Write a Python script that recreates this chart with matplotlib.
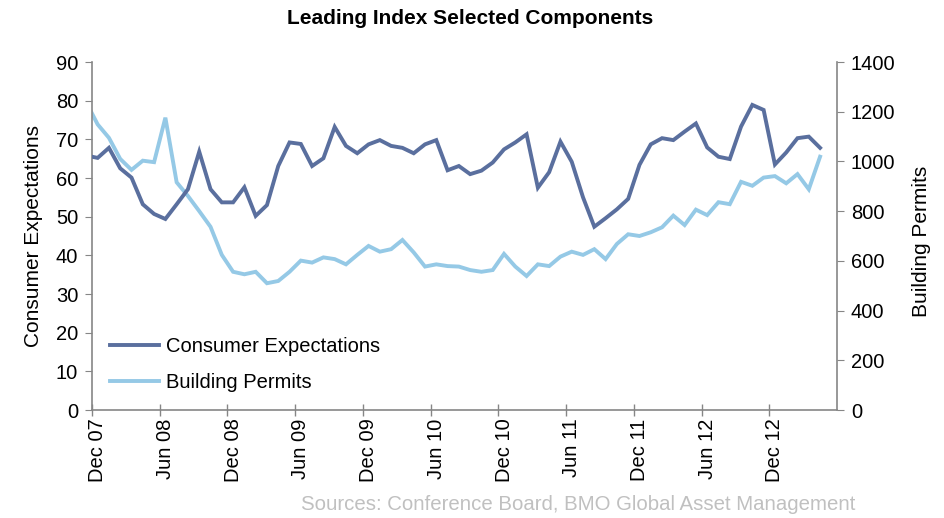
import matplotlib
matplotlib.use("Agg")
import matplotlib.pyplot as plt
from matplotlib.ticker import FixedLocator, NullFormatter, FixedFormatter

plt.rcParams['font.family'] = ['Liberation Sans', 'DejaVu Sans']

# Monthly data: Nov 07 (clipped at the left edge) then Dec 07 .. Apr 13
months_offset = list(range(-1, 65))  # month index relative to Dec 07
consumer_expectations = [65.8,
    65.2, 67.8, 62.5, 60.1, 53.2, 50.7, 49.4, 53.2, 57.1, 66.8, 57.1, 53.7,
    53.7, 57.6, 50.2, 53.0, 63.1, 69.2, 68.8, 63.1, 65.1, 73.2, 68.3, 66.4,
    68.7, 69.8, 68.3, 67.8, 66.4, 68.7, 69.8, 62.0, 63.1, 61.0, 61.9, 64.0,
    67.4, 69.2, 71.3, 57.5, 61.5, 69.4, 64.2, 55.0, 47.4, 49.6, 51.9, 54.6,
    63.4, 68.7, 70.3, 69.8, 72.0, 74.1, 67.9, 65.5, 64.9, 73.3, 78.9, 77.6,
    63.5, 66.6, 70.3, 70.7, 67.8]
building_permits = [1237,
    1149, 1095, 1010, 966, 1003, 997, 1176, 916, 861, 800, 737, 624,
    556, 546, 556, 510, 519, 556, 601, 593, 614, 607, 586, 624,
    660, 637, 647, 684, 634, 577, 586, 579, 577, 563, 556, 563,
    628, 577, 539, 586, 579, 617, 637, 624, 647, 607, 668, 707,
    700, 715, 735, 782, 744, 806, 784, 836, 828, 918, 902, 935,
    941, 912, 949, 888, 1019]

tick_labels = ["Dec 07", "Jun 08", "Dec 08", "Jun 09", "Dec 09", "Jun 10",
               "Dec 10", "Jun 11", "Dec 11", "Jun 12", "Dec 12"]
tick_months = [0, 6, 12, 18, 24, 30, 36, 42, 48, 54, 60]
n_categories = 66

left_ticks = [0, 10, 20, 30, 40, 50, 60, 70, 80, 90]
right_ticks = [0, 200, 400, 600, 800, 1000, 1200, 1400]

c_ce = "#5A6F9E"
c_bp = "#95C9E6"
axis_color = "#868686"
fs = 14.5

fig = plt.figure(figsize=(9.44, 5.18), dpi=100)
ax = fig.add_axes([92/944, 1-410/518, (837-92)/944, (410-62)/518])
ax2 = ax.twinx()

x = [m + 0.5 for m in months_offset]
l1, = ax.plot(x, consumer_expectations, color=c_ce, lw=2.8,
              solid_joinstyle='miter', label="Consumer Expectations", zorder=3)
l2, = ax2.plot(x, building_permits, color=c_bp, lw=2.8,
               solid_joinstyle='miter', label="Building Permits", zorder=2)

ax.set_xlim(0, n_categories)
ax.set_ylim(0, 90)
ax2.set_ylim(0, 1400)
ax.set_yticks(left_ticks)
ax2.set_yticks(right_ticks)

ax.xaxis.set_major_locator(FixedLocator(tick_months))
ax.xaxis.set_major_formatter(NullFormatter())
ax.xaxis.set_minor_locator(FixedLocator([m + 0.5 for m in tick_months]))
ax.xaxis.set_minor_formatter(FixedFormatter(tick_labels))
ax.tick_params(axis='x', which='major', direction='inout', length=8,
               color=axis_color, width=1)
ax.tick_params(axis='x', which='minor', length=0, labelsize=fs,
               labelrotation=90, pad=6)
ax.tick_params(axis='y', direction='out', length=5, color=axis_color,
               labelsize=fs, pad=5)
ax2.tick_params(axis='y', direction='out', length=5, color=axis_color,
                labelsize=fs, pad=5)

for a in (ax, ax2):
    a.spines['top'].set_visible(False)
    for s in ('left', 'right', 'bottom'):
        a.spines[s].set_color(axis_color)
        a.spines[s].set_linewidth(1.2)
ax2.spines['left'].set_visible(False)
ax2.spines['bottom'].set_visible(False)
ax.spines['right'].set_visible(False)

ax.set_ylabel("Consumer Expectations", fontsize=15, labelpad=9)
ax2.set_ylabel("Building Permits", fontsize=15)
ax2.yaxis.set_label_coords(1.0 + 75/745, 0.485)

ax.set_zorder(ax2.get_zorder() + 1)
ax.patch.set_visible(False)

leg = ax.legend([l1, l2], ["Consumer Expectations", "Building Permits"],
                loc='lower left', bbox_to_anchor=(0.0, 0.0), frameon=False,
                fontsize=fs, handlelength=2.45, handletextpad=0.3,
                labelspacing=0.85)

fig.text(470/944, 1-18/518, "Leading Index Selected Components",
         ha='center', va='center', fontsize=15, fontweight='bold')
fig.text(855/944, 1-505/518,
         "Sources: Conference Board, BMO Global Asset Management",
         ha='right', va='center', fontsize=14.7, color="#C0C0C0")

fig.savefig("out.png", dpi=100)
